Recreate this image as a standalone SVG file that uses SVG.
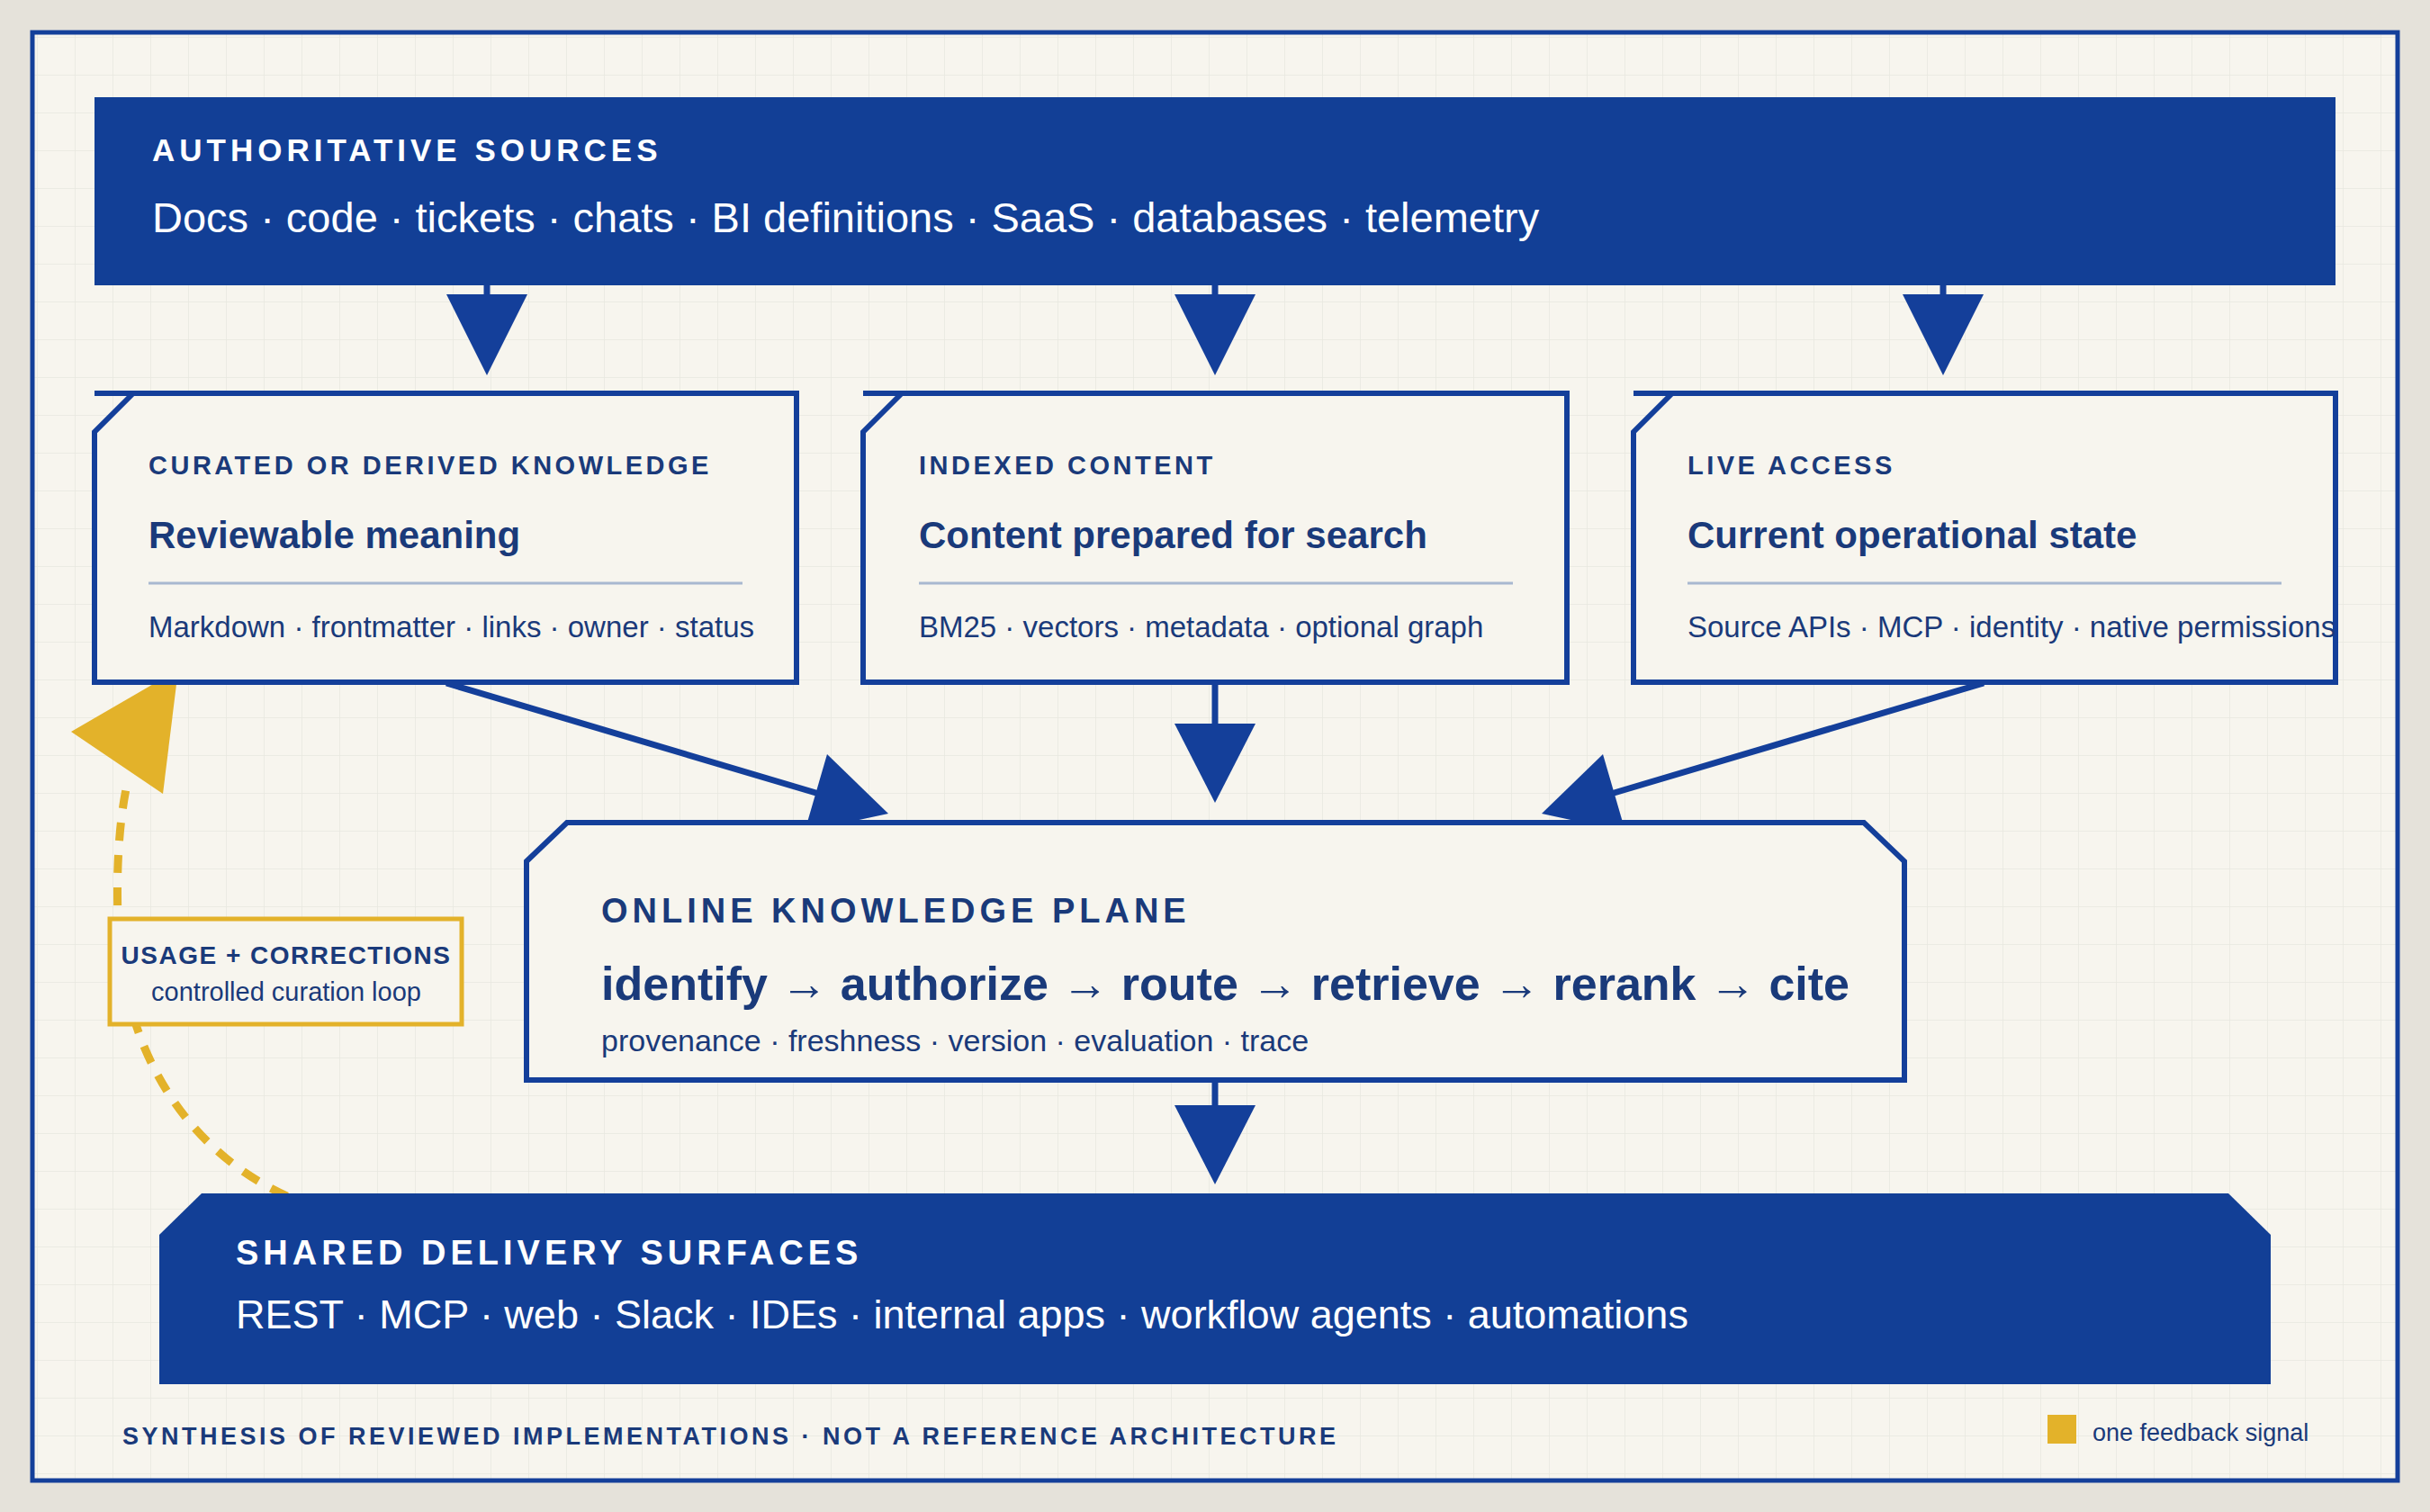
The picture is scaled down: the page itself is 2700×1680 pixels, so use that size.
<svg xmlns="http://www.w3.org/2000/svg" width="2700" height="1680" viewBox="0 0 2700 1680">
<defs>
<pattern id="grid" width="42" height="42" patternUnits="userSpaceOnUse"><path d="M42 0V42H0" fill="none" stroke="#e8e8e0" stroke-width="1.5"/></pattern>
<style>
.t{font-family:"Liberation Sans",Arial,sans-serif;fill:#1a3a7a}
.w{font-family:"Liberation Sans",Arial,sans-serif;fill:#ffffff}
.lab{font-size:29px;font-weight:bold;letter-spacing:3.5px}
.hd{font-size:42px;font-weight:bold}
.it{font-size:33px}
.box{fill:#f7f5ee;stroke:#143f9a;stroke-width:6}
.ln{stroke:#143f9a;stroke-width:7;fill:none}
.ah{fill:#143f9a}
</style>
</defs>
<rect width="2700" height="1680" fill="#e5e2da"/>
<rect x="36" y="36" width="2628" height="1609" fill="#f7f5ee"/>
<rect x="36" y="36" width="2628" height="1609" fill="url(#grid)"/>
<rect x="36" y="36" width="2628" height="1609" fill="none" stroke="#143f9a" stroke-width="5"/>

<g id="sources">
<rect x="105" y="108" width="2490" height="209" fill="#123f96"/>
<text class="w" x="169" y="179" font-size="35" font-weight="bold" letter-spacing="5">AUTHORITATIVE SOURCES</text>
<text class="w" x="169" y="258" font-size="47">Docs · code · tickets · chats · BI definitions · SaaS · databases · telemetry</text>
</g>

<g id="connectors">
<line class="ln" x1="541" y1="317" x2="541" y2="330"/><polygon class="ah" points="496,327 586,327 541,417"/>
<line class="ln" x1="1350" y1="317" x2="1350" y2="330"/><polygon class="ah" points="1305,327 1395,327 1350,417"/>
<line class="ln" x1="2159" y1="317" x2="2159" y2="330"/><polygon class="ah" points="2114,327 2204,327 2159,417"/>
<line class="ln" x1="496" y1="759" x2="910" y2="882"/><polygon class="ah" points="987,904 919,838 894,924"/>
<line class="ln" x1="1350" y1="758" x2="1350" y2="806"/><polygon class="ah" points="1305,804 1395,804 1350,892"/>
<line class="ln" x1="2204" y1="759" x2="1790" y2="882"/><polygon class="ah" points="1713,904 1781,838 1806,924"/>
<line class="ln" x1="1350" y1="1200" x2="1350" y2="1230"/><polygon class="ah" points="1305,1228 1395,1228 1350,1316"/>
<path d="M319 1329 C210 1280 135 1170 131 1020 C129 960 133 910 141 872" fill="none" stroke="#e3b22a" stroke-width="9" stroke-dasharray="20 16"/>
<polygon points="198,744 79,813 181,882" fill="#e3b22a"/>
</g>

<g id="curated">
<path class="box" d="M105 437 H885 V758 H105 V480 L148 437"/>
<text class="t lab" x="165" y="527">CURATED OR DERIVED KNOWLEDGE</text>
<text class="t hd" x="165" y="609">Reviewable meaning</text>
<line x1="165" y1="648" x2="825" y2="648" stroke="#a8b8d0" stroke-width="3"/>
<text class="t it" x="165" y="708">Markdown · frontmatter · links · owner · status</text>
</g>
<g id="indexed">
<path class="box" d="M959 437 H1741 V758 H959 V480 L1002 437"/>
<text class="t lab" x="1021" y="527">INDEXED CONTENT</text>
<text class="t hd" x="1021" y="609">Content prepared for search</text>
<line x1="1021" y1="648" x2="1681" y2="648" stroke="#a8b8d0" stroke-width="3"/>
<text class="t it" x="1021" y="708">BM25 · vectors · metadata · optional graph</text>
</g>
<g id="live">
<path class="box" d="M1815 437 H2595 V758 H1815 V480 L1858 437"/>
<text class="t lab" x="1875" y="527">LIVE ACCESS</text>
<text class="t hd" x="1875" y="609">Current operational state</text>
<line x1="1875" y1="648" x2="2535" y2="648" stroke="#a8b8d0" stroke-width="3"/>
<text class="t it" x="1875" y="708">Source APIs · MCP · identity · native permissions</text>
</g>

<g id="plane">
<path class="box" d="M585 957 L630 914 H2071 L2116 957 V1200 H585 Z"/>
<text class="t" x="668" y="1025" font-size="38" font-weight="bold" letter-spacing="5">ONLINE KNOWLEDGE PLANE</text>
<text class="t" x="668" y="1111" font-size="52" font-weight="bold">identify <tspan font-weight="normal">→</tspan> authorize <tspan font-weight="normal">→</tspan> route <tspan font-weight="normal">→</tspan> retrieve <tspan font-weight="normal">→</tspan> rerank <tspan font-weight="normal">→</tspan> cite</text>
<text class="t" x="668" y="1168" font-size="34">provenance · freshness · version · evaluation · trace</text>
</g>

<g id="feedback">
<rect x="122" y="1021" width="391" height="117" fill="#f7f5ee" stroke="#e3b22a" stroke-width="5"/>
<text class="t" x="318" y="1071" font-size="28" font-weight="bold" letter-spacing="1.5" text-anchor="middle">USAGE + CORRECTIONS</text>
<text class="t" x="318" y="1112" font-size="29" text-anchor="middle">controlled curation loop</text>
</g>

<g id="delivery">
<path d="M177 1372 L224 1326 H2476 L2523 1372 V1538 H177 Z" fill="#123f96"/>
<text class="w" x="262" y="1405" font-size="38" font-weight="bold" letter-spacing="5">SHARED DELIVERY SURFACES</text>
<text class="w" x="262" y="1476" font-size="45">REST · MCP · web · Slack · IDEs · internal apps · workflow agents · automations</text>
</g>

<g id="footer">
<text class="t" x="136" y="1605" font-size="27" font-weight="bold" letter-spacing="3.5">SYNTHESIS OF REVIEWED IMPLEMENTATIONS · NOT A REFERENCE ARCHITECTURE</text>
<rect x="2275" y="1572" width="32" height="32" fill="#e3b22a"/>
<text class="t" x="2325" y="1601" font-size="27">one feedback signal</text>
</g>
</svg>
